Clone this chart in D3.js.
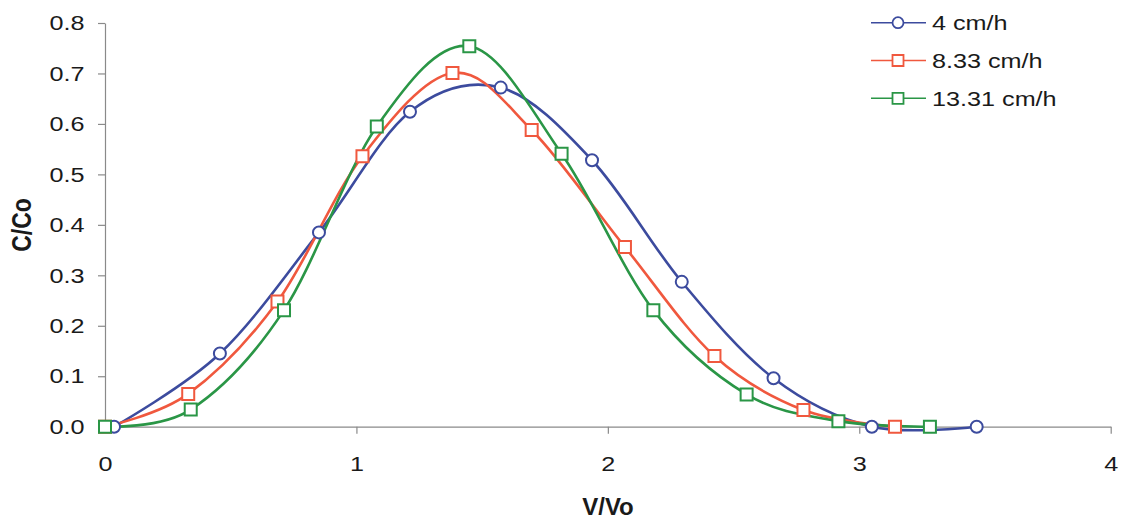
<!DOCTYPE html>
<html>
<head>
<meta charset="utf-8">
<script src="https://cdn.jsdelivr.net/npm/d3@7"></script>
<style>
  body { margin: 0; background: #fff; }
  text { font-family: "Liberation Sans", Arial, sans-serif; fill: #1a1a1a; }
</style>
</head>
<body>
<div id="chart"></div>
<script>
// values
const seriesNames = ["4 cm/h", "8.33 cm/h", "13.31 cm/h"];
const seriesColors = ["#3c4b9e", "#f0583e", "#2a9646"];
const seriesShapes = ["circle", "square", "square"];

const vBlue = [0.036, 0.457, 0.851, 1.213, 1.574, 1.937, 2.294, 2.659, 3.05, 3.467];
const cBlue = [0.0, 0.145, 0.385, 0.624, 0.672, 0.528, 0.287, 0.096, 0.0, 0.0];

const vRed = [0.0, 0.331, 0.686, 1.024, 1.382, 1.697, 2.068, 2.424, 2.778, 3.142];
const cRed = [0.0, 0.065, 0.248, 0.536, 0.701, 0.588, 0.356, 0.14, 0.033, 0.0];

const vGreen = [0.0, 0.341, 0.712, 1.081, 1.449, 1.816, 2.181, 2.552, 2.917, 3.281];
const cGreen = [0.0, 0.034, 0.231, 0.595, 0.754, 0.541, 0.231, 0.064, 0.011, 0.0];

const xTicks = [0, 1, 2, 3, 4];
const yTicks = [0, 0.1, 0.2, 0.3, 0.4, 0.5, 0.6, 0.7, 0.8];

const seriesX = [vBlue, vRed, vGreen];
const seriesY = [cBlue, cRed, cGreen];

const dimensions = {
    width: 1121,
    height: 522,
    margin: { top: 23, right: 10, bottom: 95, left: 105 }
};
const innerW = 1110.7 - dimensions.margin.left;
const innerH = 426.7 - dimensions.margin.top;
const stretch = 1.2; // the source text is a bit wide

const svg = d3.select("#chart")
    .append("svg")
    .attr("width", dimensions.width)
    .attr("height", dimensions.height);

const g = svg.append("g")
    .attr("transform", `translate(${dimensions.margin.left},${dimensions.margin.top})`);

const xScale = d3.scaleLinear().domain([0, 4]).range([0, innerW]);
const yScale = d3.scaleLinear().domain([0, 0.8]).range([innerH, 0]);

// axes
const xAxis = g.append("g")
    .attr("transform", `translate(0,${innerH})`)
    .call(d3.axisBottom(xScale).tickValues(xTicks).tickFormat(d3.format("d")).tickSize(7).tickPadding(22).tickSizeOuter(0));

const yAxis = g.append("g")
    .call(d3.axisLeft(yScale).tickValues(yTicks).tickFormat(d3.format(".1f")).tickSize(7).tickPadding(10).tickSizeOuter(0));

[xAxis, yAxis].forEach(ax => {
    ax.select(".domain").attr("stroke", "#8a8a8a").attr("stroke-width", 1.2);
    ax.selectAll(".tick line").attr("stroke", "#8a8a8a").attr("stroke-width", 1.2);
    ax.selectAll(".tick text")
        .attr("font-size", 21)
        .attr("fill", "#1a1a1a")
        .attr("transform", `scale(${stretch},1)`);
});
xAxis.selectAll(".tick").filter(d => d === 0).select("line").remove();

// curves
const line = d3.line()
    .x(d => xScale(d[0]))
    .y(d => yScale(d[1]))
    .curve(d3.curveCardinal.tension(0));

const symbolFor = (shape, size) => shape === "circle"
    ? d3.symbol().type(d3.symbolCircle).size(Math.PI * size * size / 4)
    : d3.symbol().type(d3.symbolSquare).size(size * size);

seriesNames.forEach((name, i) => {
    const pts = seriesX[i].map((v, j) => [v, seriesY[i][j]]);
    g.append("path")
        .datum(pts)
        .attr("fill", "none")
        .attr("stroke", seriesColors[i])
        .attr("stroke-width", 2.6)
        .attr("d", line);
});

seriesNames.forEach((name, i) => {
    const pts = seriesX[i].map((v, j) => [v, seriesY[i][j]]);
    g.selectAll(`.mk${i}`)
        .data(pts)
        .enter()
        .append("path")
        .attr("class", `mk${i}`)
        .attr("transform", d => `translate(${xScale(d[0])},${yScale(d[1])})`)
        .attr("d", symbolFor(seriesShapes[i], 12)())
        .attr("fill", "#fff")
        .attr("stroke", seriesColors[i])
        .attr("stroke-width", 2);
});

// legend
const legend = svg.selectAll(".legend")
    .data(seriesNames)
    .enter()
    .append("g")
    .attr("class", "legend")
    .attr("transform", (d, i) => `translate(871,${22.7 + i * 37.8})`);

legend.append("line")
    .attr("x1", 0)
    .attr("x2", 55)
    .attr("stroke", (d, i) => seriesColors[i])
    .attr("stroke-width", 1.6);

legend.append("path")
    .attr("transform", "translate(27,0)")
    .attr("d", (d, i) => symbolFor(seriesShapes[i], 11)())
    .attr("fill", "#fff")
    .attr("stroke", (d, i) => seriesColors[i])
    .attr("stroke-width", 1.8);

legend.append("text")
    .attr("transform", `translate(61,7.5) scale(${stretch},1)`)
    .attr("font-size", 21)
    .text(d => d);

// axis titles
svg.append("text")
    .attr("transform", `translate(608,515)`)
    .attr("text-anchor", "middle")
    .attr("font-size", 24)
    .attr("font-weight", "bold")
    .text("V/Vo");

svg.append("text")
    .attr("transform", `translate(31,225) scale(${stretch},1) rotate(-90)`)
    .attr("text-anchor", "middle")
    .attr("font-size", 23)
    .attr("font-weight", "bold")
    .text("C/Co");
</script>
</body>
</html>
